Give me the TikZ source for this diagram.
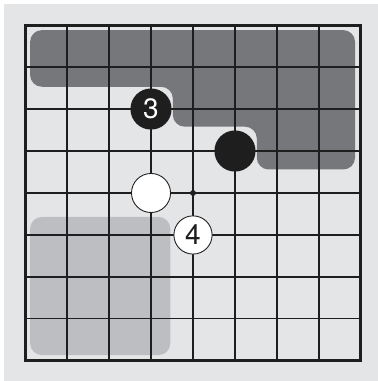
\documentclass[tikz,border=0pt]{standalone}
\usepackage{fontspec}
\setmainfont{TeX Gyre Heros}
\usetikzlibrary{positioning}

\definecolor{boardbg}{HTML}{E4E5E7}
\definecolor{areadark}{HTML}{76777B}
\definecolor{arealight}{HTML}{BDBEC2}
\definecolor{inkline}{HTML}{1E1E1E}

\newcommand{\stonelabel}{\fontsize{19}{22}\selectfont}

\begin{document}
\begin{tikzpicture}[
  bstone/.style={circle, fill=inkline, inner sep=0pt, minimum size=0.98cm, text=white, font=\stonelabel},
  wstone/.style={circle, draw=inkline, line width=0.6pt, fill=white, inner sep=0pt, minimum size=0.93cm, text=inkline, font=\stonelabel},
  hoshi/.style={circle, fill=inkline, inner sep=0pt, minimum size=0.14cm}]

% Page and board background
\useasboundingbox (-0.597,-0.478) rectangle (8.406,8.597);
\fill[white] (-0.597,-0.478) rectangle (8.406,8.597);
\fill[boardbg] (-0.501,-0.478) rectangle (8.406,8.501);

% Shaded areas
\fill[areadark, rounded corners=8pt] (0.12,7.88) -- (7.86,7.88) -- (7.86,4.56) -- (5.52,4.56)
  -- (5.52,5.58) -- (3.52,5.58) -- (3.52,6.53) -- (0.12,6.53) -- cycle;
\fill[arealight, rounded corners=8pt] (0.12,0.14) rectangle (3.46,3.43);

% Board lines
\draw[inkline, line width=0.75pt, step=1] (0,0) grid (8,8);
\draw[inkline, line width=2pt] (0,0) rectangle (8,8);

% Stones
\node[hoshi] (star) at (4,4) {};
\node[bstone] (b3) at (3,6) {3};
\node[bstone] (b1) at (5,5) {};
\node[wstone] (w1) at (3,4) {};
\node[wstone, minimum size=0.91cm] (w4) at (4,3) {4};

\end{tikzpicture}
\end{document}
